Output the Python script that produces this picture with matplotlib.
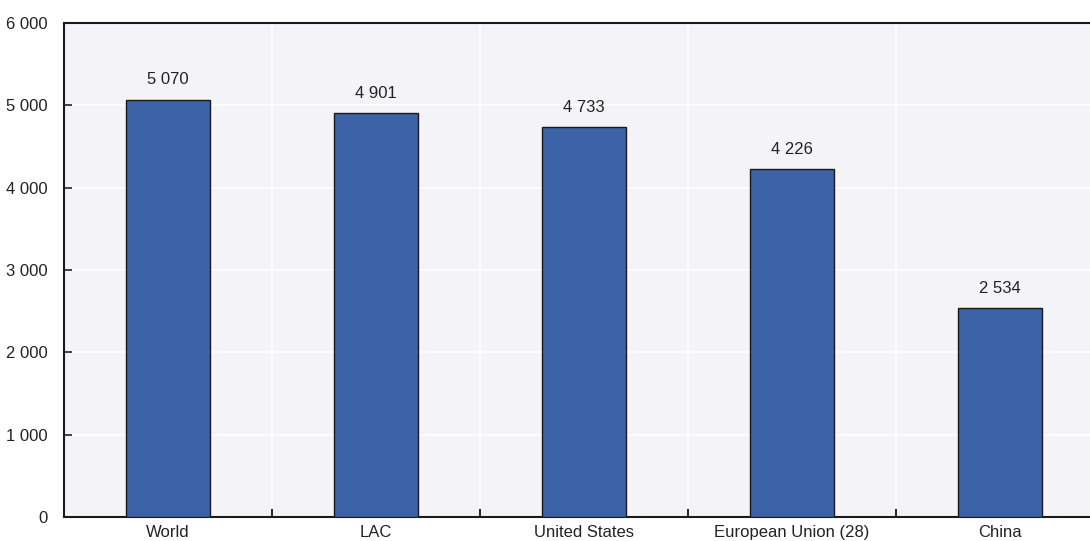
import matplotlib
matplotlib.use("Agg")
import matplotlib.pyplot as plt
from matplotlib import font_manager
from matplotlib.ticker import FixedLocator, FuncFormatter

categories = ["World", "LAC", "United States", "European Union (28)", "China"]
values = [5070, 4901, 4733, 4226, 2534]
yticks = [0, 1000, 2000, 3000, 4000, 5000, 6000]

names = {f.name for f in font_manager.fontManager.ttflist}
fam = ["Liberation Sans Narrow", "Liberation Sans", "DejaVu Sans"]
plt.rcParams['font.family'] = [f for f in fam if f in names] or ["DejaVu Sans"]

def fmt(v):
    return f"{int(round(v)):,}".replace(",", " ")

fig = plt.figure(figsize=(10.9, 5.41), dpi=100)
ax = fig.add_axes([64/1090, 24/541, 1040/1090, 494/541])
ax.set_facecolor("#F3F3F8")

x = list(range(len(categories)))
bars = ax.bar(x, values, width=0.4, color="#3C62A7", edgecolor="#1a1a1a", linewidth=1.0, zorder=3)
for xi, v in zip(x, values):
    ax.annotate(fmt(v), (xi, v), xytext=(0, 9), textcoords="offset points",
                ha="center", va="bottom", fontsize=12, color="#222222")

ax.set_xlim(-0.5, len(categories) - 0.5)
ax.set_ylim(0, 6000)
ax.set_yticks(yticks)
ax.yaxis.set_major_formatter(FuncFormatter(lambda v, p: fmt(v)))
ax.set_xticks(x)
ax.set_xticklabels(categories)
ax.xaxis.set_minor_locator(FixedLocator([i + 0.5 for i in range(len(categories) - 1)]))

ax.tick_params(axis="y", direction="in", length=6, width=1.2, pad=12, labelsize=12, colors="#222222")
ax.tick_params(axis="x", which="major", length=0, pad=6, labelsize=12, colors="#222222")
ax.tick_params(axis="x", which="minor", direction="in", length=6, width=1.2)

ax.grid(True, axis="y", color="white", linewidth=1.2, zorder=0)
ax.grid(True, axis="x", which="minor", color="white", linewidth=1.2, zorder=0)
ax.set_axisbelow(True)

for s in ["left", "bottom", "top"]:
    ax.spines[s].set_color("#1a1a1a")
    ax.spines[s].set_linewidth(1.5)
ax.spines["right"].set_visible(False)

fig.savefig("out.png", dpi=100)
